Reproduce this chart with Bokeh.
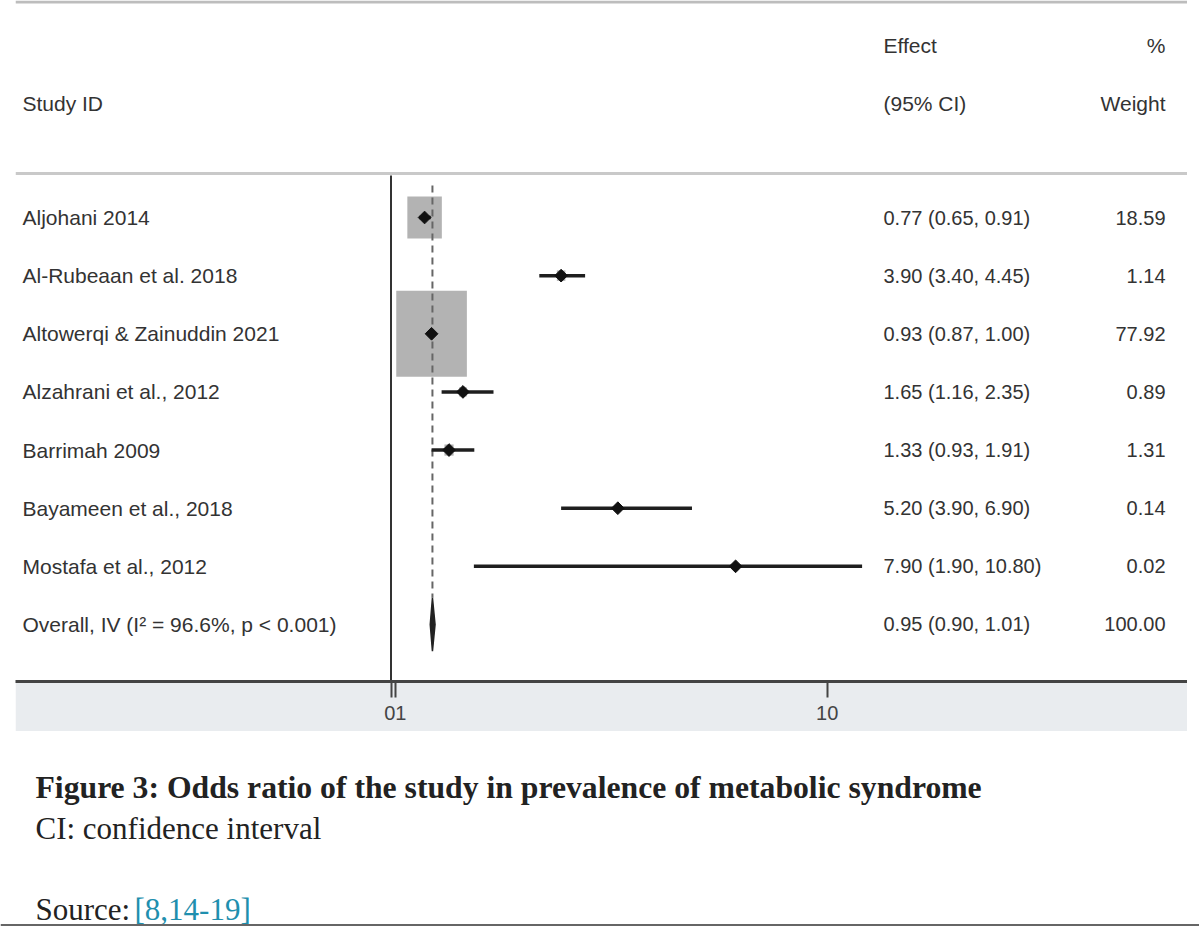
import numpy as np
from bokeh.plotting import figure
from bokeh.models import Range1d, FixedTicker, Span, Label, Spacer, ColumnDataSource
from bokeh.layouts import column, row
from bokeh.core.properties import value
from bokeh.embed import file_html
from bokeh.resources import INLINE

# ---------------- data ----------------
studies = ["Aljohani 2014", "Al-Rubeaan et al. 2018", "Altowerqi & Zainuddin 2021",
           "Alzahrani et al., 2012", "Barrimah 2009", "Bayameen et al., 2018",
           "Mostafa et al., 2012"]
effect = [0.77, 3.90, 0.93, 1.65, 1.33, 5.20, 7.90]
lower = [0.65, 3.40, 0.87, 1.16, 0.93, 3.90, 1.90]
upper = [0.91, 4.45, 1.00, 2.35, 1.91, 6.90, 10.80]
weight = [18.59, 1.14, 77.92, 0.89, 1.31, 0.14, 0.02]

overall_label = "Overall, IV (I\u00b2 = 96.6%, p < 0.001)"
overall_effect = 0.95
overall_lower = 0.90
overall_upper = 1.01
overall_weight = 100.00

null_value = 0.0
axis_ticks = [0.1, 10]
axis_minor_ticks = [0.0]
axis_labels = {0.1: "01", 10: "10"}

header_top = ["Effect", "%"]
header_bottom = ["Study ID", "(95% CI)", "Weight"]

caption_title = "Figure 3: Odds ratio of the study in prevalence of metabolic syndrome"
caption_note = "CI: confidence interval"
caption_source = "Source: "
caption_refs = "[8,14-19]"

# ---------------- layout constants (screen pixels) ----------------
PAGE_W, PAGE_H = 1199, 926
PANEL_LEFT, PANEL_RIGHT = 15, 1187
PANEL_TOP, AXIS_Y, BAND_BOTTOM = 0, 681, 731
X0_PX, PX_PER_UNIT = 390.5, 43.62
ROW0_PX, ROW_STEP = 217, 58.14


def px_to_x(px):
    return (px - X0_PX) / PX_PER_UNIT


def px_to_row(py):
    return (py - ROW0_PX) / ROW_STEP


W = PANEL_RIGHT - PANEL_LEFT
H = BAND_BOTTOM - PANEL_TOP

p = figure(width=W, height=H,
           x_range=Range1d(px_to_x(PANEL_LEFT), px_to_x(PANEL_RIGHT)),
           y_range=Range1d(px_to_row(AXIS_Y), px_to_row(PANEL_TOP)),
           y_axis_location=None, toolbar_location=None, output_backend="svg",
           min_border_left=0, min_border_right=0, min_border_top=0,
           min_border_bottom=BAND_BOTTOM - AXIS_Y)
p.border_fill_color = "#e9ecef"
p.background_fill_color = "white"
p.outline_line_color = None
p.xgrid.visible = False
p.ygrid.visible = False

ax = p.xaxis[0]
ax.ticker = FixedTicker(ticks=axis_ticks, minor_ticks=axis_minor_ticks)
ax.major_label_overrides = axis_labels
ax.axis_line_color = "#444444"
ax.axis_line_width = 3
ax.major_tick_line_color = "#444444"
ax.major_tick_line_width = 2
ax.major_tick_in = 0
ax.major_tick_out = 16
ax.minor_tick_line_color = "#444444"
ax.minor_tick_line_width = 2
ax.minor_tick_in = 0
ax.minor_tick_out = 16
ax.major_label_standoff = 8
ax.major_label_text_font = "Liberation Sans"
ax.major_label_text_font_size = "20px"
ax.major_label_text_color = "#444444"

rows = list(range(len(studies)))
overall_row = len(studies)
DIAMOND_HALF = 0.46
TEXT_COLOR = "#333333"

# top page rule and header separator line
p.add_layout(Span(location=px_to_row(1.5), dimension="width",
                  line_color="#bdbdbd", line_width=3))
p.add_layout(Span(location=px_to_row(173), dimension="width",
                  line_color="#c9c9c9", line_width=3))

# weight boxes
box_w = [8.0 * np.sqrt(w) for w in weight]
box_h = [1.22 * b for b in box_w]
src = ColumnDataSource(dict(x=effect, y=rows, lo=lower, hi=upper, bw=box_w, bh=box_h))
p.rect(x="x", y="y", width="bw", height="bh", width_units="screen", height_units="screen",
       source=src, fill_color="#b3b3b3", line_color=None)

# null line
p.segment(x0=[null_value], y0=[px_to_row(175)], x1=[null_value], y1=[px_to_row(AXIS_Y)],
          line_color="#333333", line_width=2)

# overall effect dashed line
p.segment(x0=[overall_effect], y0=[px_to_row(185)], x1=[overall_effect],
          y1=[overall_row - DIAMOND_HALF], line_color="#666666", line_width=2,
          line_dash="7 5")

# confidence intervals and point estimates
p.segment(x0="lo", y0="y", x1="hi", y1="y", source=src, line_color="#1e1e1e", line_width=3.5)
p.scatter(x="x", y="y", source=src, marker="square", angle=np.pi / 4, size=9,
          fill_color="#111111", line_color="#111111")

# overall diamond
p.patch(x=[overall_lower, overall_effect, overall_upper, overall_effect],
        y=[overall_row, overall_row - DIAMOND_HALF, overall_row, overall_row + DIAMOND_HALF],
        fill_color="#222222", line_color="#222222", line_width=1.5)

# texts
all_labels = studies + [overall_label]
all_rows = rows + [overall_row]
eff_txt = [f"{e:.2f} ({l:.2f}, {u:.2f})" for e, l, u in zip(effect, lower, upper)]
eff_txt.append(f"{overall_effect:.2f} ({overall_lower:.2f}, {overall_upper:.2f})")
w_txt = [f"{w:.2f}" for w in weight] + [f"{overall_weight:.2f}"]

x_label = px_to_x(22)
x_eff = px_to_x(883)
x_w = px_to_x(1165)

p.text(x=[x_label] * len(all_rows), y=all_rows, text=all_labels,
       text_font=value("Liberation Sans"), text_font_size="21px", text_color=TEXT_COLOR,
       text_baseline="middle", text_align="left")
p.text(x=[x_eff] * len(all_rows), y=all_rows, text=eff_txt,
       text_font=value("Liberation Sans"), text_font_size="20px", text_color=TEXT_COLOR,
       text_baseline="middle", text_align="left")
p.text(x=[x_w] * len(all_rows), y=all_rows, text=w_txt,
       text_font=value("Liberation Sans"), text_font_size="20px", text_color=TEXT_COLOR,
       text_baseline="middle", text_align="right")

# header
hy1 = px_to_row(45)
hy2 = px_to_row(103)
p.text(x=[x_eff], y=[hy1], text=[header_top[0]], text_font=value("Liberation Sans"),
       text_font_size="21px", text_color=TEXT_COLOR, text_baseline="middle", text_align="left")
p.text(x=[x_w], y=[hy1], text=[header_top[1]], text_font=value("Liberation Sans"),
       text_font_size="21px", text_color=TEXT_COLOR, text_baseline="middle", text_align="right")
p.text(x=[x_label, x_eff], y=[hy2, hy2], text=header_bottom[:2], text_font=value("Liberation Sans"),
       text_font_size="21px", text_color=TEXT_COLOR, text_baseline="middle", text_align="left")
p.text(x=[x_w], y=[hy2], text=[header_bottom[2]], text_font=value("Liberation Sans"),
       text_font_size="21px", text_color=TEXT_COLOR, text_baseline="middle", text_align="right")

# ---------------- caption ----------------
CW, CH = PAGE_W, PAGE_H - H
c = figure(width=CW, height=CH, x_range=Range1d(0, CW), y_range=Range1d(CH, 0),
           x_axis_location=None, y_axis_location=None, toolbar_location=None,
           output_backend="svg", min_border=0)
c.outline_line_color = None
c.xgrid.visible = False
c.ygrid.visible = False
c.background_fill_color = "white"
c.border_fill_color = "white"

cap_x = 35
BASELINE_FIX = 10
cy = lambda py: py - BAND_BOTTOM
c.add_layout(Label(x=cap_x, y=cy(797 - BASELINE_FIX), text=caption_title, text_font="Liberation Serif",
                   text_font_style="bold", text_font_size="31.7px", text_color="#222222",
                   text_baseline="alphabetic"))
c.add_layout(Label(x=cap_x, y=cy(838 - BASELINE_FIX), text=caption_note, text_font="Liberation Serif",
                   text_font_size="31px", text_color="#222222", text_baseline="alphabetic"))
c.add_layout(Label(x=cap_x, y=cy(919 - BASELINE_FIX), text=caption_source, text_font="Liberation Serif",
                   text_font_size="31px", text_color="#222222", text_baseline="alphabetic"))
c.add_layout(Label(x=134, y=cy(919 - BASELINE_FIX), text=caption_refs, text_font="Liberation Serif",
                   text_font_size="31px", text_color="#1f8fae", text_baseline="alphabetic"))
c.add_layout(Span(location=cy(924.5), dimension="width", line_color="#666666", line_width=2))

layout = column(row(Spacer(width=PANEL_LEFT, height=H), p), c)

open("out.html", "w").write(file_html(layout, INLINE))
